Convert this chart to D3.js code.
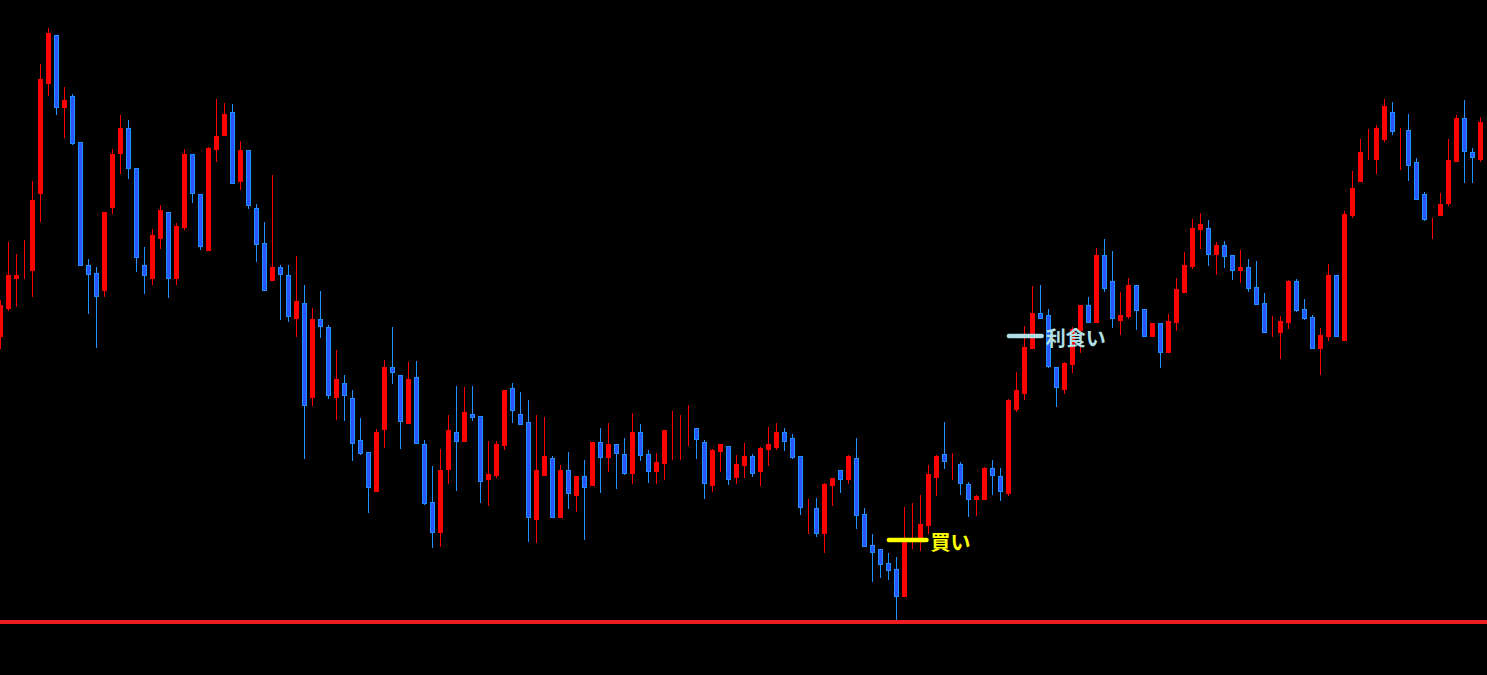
<!DOCTYPE html>
<meta charset="utf-8">
<script src="https://cdn.jsdelivr.net/npm/d3@7"></script>
<style>
body { margin: 0; background: #000; overflow: hidden; }
svg { display: block; }
.wick { stroke-width: 1px; shape-rendering: crispEdges; }
.body { stroke-width: 1px; shape-rendering: crispEdges; }
.label { font: bold 20px "Noto Sans CJK JP", sans-serif; }
</style>
<body>
<script>

// OHLC (one candle per bar, oldest first)
var open = [364,392,422,433,430,507,617,665,593,604,
  558,435,427,410,493,547,572,532,435,422,
  462,488,422,473,546,506,450,551,565,588,
  519,550,492,457,420,433,425,382,397,303,
  381,373,303,317,302,260,248,209,271,333,
  325,277,323,256,198,168,231,268,259,286,
  284,221,225,255,312,286,278,181,225,242,
  183,230,205,224,215,258,243,256,246,227,
  268,246,229,237,270,270,274,272,258,215,
  249,254,223,235,244,229,251,253,268,262,
  244,194,192,167,215,230,221,242,186,155,
  151,137,131,104,160,160,175,223,246,241,
  236,216,201,201,232,224,207,291,307,352,
  387,385,333,311,336,370,395,378,445,419,
  380,384,415,391,364,377,348,378,408,434,
  471,472,446,455,445,430,433,413,397,369,
  368,378,419,391,383,352,364,425,360,485,
  519,546,541,561,588,572,570,538,506,482,
  485,497,539,582,548,541,580];

var high = [400,458,446,460,519,636,672,665,613,606,
  558,441,433,488,551,585,580,532,453,471,
  495,488,477,551,546,506,553,601,597,596,
  559,550,496,478,525,435,435,444,415,392,
  409,375,350,325,310,282,248,271,340,373,
  325,338,339,260,234,251,285,314,313,314,
  284,259,259,310,317,308,300,285,283,244,
  235,248,224,240,258,272,277,256,262,287,
  276,250,247,270,289,285,295,272,260,251,
  256,254,245,257,246,253,273,277,272,266,
  244,201,202,217,222,230,245,262,192,166,
  151,147,143,193,197,205,235,245,278,247,
  238,218,205,233,240,232,301,328,374,414,
  415,391,333,338,373,395,403,452,461,449,
  408,422,415,391,377,377,386,422,448,481,
  487,480,458,459,445,450,441,439,407,384,
  384,420,421,401,385,372,436,425,489,529,
  561,571,575,601,598,572,586,542,508,482,
  507,561,585,600,552,583,582];

var low = [352,390,394,422,404,479,605,586,563,556,
  435,387,353,404,487,527,522,429,407,416,
  452,403,416,471,498,451,450,539,565,517,
  511,492,439,410,420,381,379,364,242,295,
  363,302,281,280,240,246,188,209,253,317,
  252,277,257,196,153,154,217,210,259,280,
  198,195,223,251,278,276,159,158,225,183,
  183,192,189,161,215,208,229,212,226,217,
  240,218,217,221,241,241,255,242,202,209,
  229,216,217,223,224,215,235,251,250,242,
  186,167,164,148,195,208,217,172,154,119,
  123,121,80,104,152,150,167,205,232,221,
  206,184,185,201,206,200,205,289,301,352,
  382,333,294,307,328,348,378,378,409,373,
  366,382,371,364,364,333,348,370,408,432,
  452,435,426,433,421,418,409,396,368,364,
  342,372,389,381,352,326,360,364,360,483,
  519,541,527,559,566,531,520,501,480,462,
  485,495,539,518,518,539,578];

var close = [395,425,425,433,500,621,667,593,600,557,
  435,426,404,488,546,572,532,443,425,465,
  490,422,474,546,507,454,552,564,586,517,
  550,495,456,410,433,426,384,399,295,381,
  374,305,321,305,257,247,213,268,333,328,
  279,321,257,197,168,230,270,259,288,283,
  219,226,256,310,290,276,183,230,244,183,
  230,207,224,213,258,243,256,247,227,268,
  245,229,238,270,270,270,274,261,217,250,
  256,221,236,244,227,252,256,268,259,243,
  193,194,167,216,222,221,244,185,154,148,
  136,130,104,159,160,176,226,244,239,241,
  217,201,204,232,225,209,300,310,353,387,
  382,334,313,337,371,395,378,445,412,382,
  385,415,390,364,377,348,379,411,435,472,
  476,446,455,444,430,433,412,396,368,369,
  379,419,390,382,352,365,425,364,486,512,
  548,546,572,594,569,572,535,501,481,482,
  496,540,582,549,543,578,580];

// horizontal levels
var stopLevel = 78;
var markers = [
  {label: "買い",   level: 160, from: 110.8, to: 116.0, color: "#ffff00"},
  {label: "利食い", level: 364, from: 125.8, to: 130.4, color: "#b0e0e6"}
];

var width = 1487,
    height = 675;

var candles = open.map(function(o, i) {
  return {i: i, o: o, h: high[i], l: low[i], c: close[i]};
});

var x = d3.scaleLinear()
    .domain([0, candles.length - 1])
    .range([0.5, 8 * (candles.length - 1) + 0.5]);

var y = d3.scaleLinear()
    .domain([25, 700])
    .range([height, 0]);

var svg = d3.select("body").append("svg")
    .attr("width", width)
    .attr("height", height);

svg.append("rect")
    .attr("width", width)
    .attr("height", height)
    .attr("fill", "#000");

function up(d) { return d.c >= d.o; }

var g = svg.selectAll(".candle")
    .data(candles)
    .enter().append("g")
    .attr("class", "candle");

// wicks
g.append("line")
    .attr("class", "wick")
    .attr("x1", function(d) { return x(d.i); })
    .attr("x2", function(d) { return x(d.i); })
    .attr("y1", function(d) { return Math.round(y(d.h)); })
    .attr("y2", function(d) { return Math.round(y(d.l)) + 1; })
    .attr("stroke", function(d) { return up(d) ? "#ff0000" : "#1e90ff"; });

// bodies
g.append("rect")
    .attr("class", "body")
    .attr("x", function(d) { return x(d.i) - 2; })
    .attr("y", function(d) { return Math.round(y(Math.max(d.o, d.c))) + 0.5; })
    .attr("width", 4)
    .attr("height", function(d) {
      return Math.round(y(Math.min(d.o, d.c))) - Math.round(y(Math.max(d.o, d.c)));
    })
    .attr("fill", function(d) { return up(d) ? "#ff0000" : "#2a55ff"; })
    .attr("stroke", function(d) { return up(d) ? "#ff0000" : "#1e90ff"; });

// stop line
svg.append("line")
    .attr("x1", 0)
    .attr("x2", width)
    .attr("y1", y(stopLevel))
    .attr("y2", y(stopLevel))
    .attr("stroke", "#f01c24")
    .attr("stroke-width", 4);

// entry / exit markers
var m = svg.selectAll(".marker")
    .data(markers)
    .enter().append("g")
    .attr("class", "marker");

m.append("line")
    .attr("x1", function(d) { return x(d.from) + 2; })
    .attr("x2", function(d) { return x(d.to) - 2; })
    .attr("y1", function(d) { return y(d.level); })
    .attr("y2", function(d) { return y(d.level); })
    .attr("stroke", function(d) { return d.color; })
    .attr("stroke-width", 4.5)
    .attr("stroke-linecap", "round");

m.append("text")
    .attr("class", "label")
    .attr("x", function(d) { return x(d.to) + 2; })
    .attr("y", function(d) { return y(d.level) + 1; })
    .attr("dominant-baseline", "central")
    .attr("fill", function(d) { return d.color; })
    .text(function(d) { return d.label; });

</script>
</body>
</html>
